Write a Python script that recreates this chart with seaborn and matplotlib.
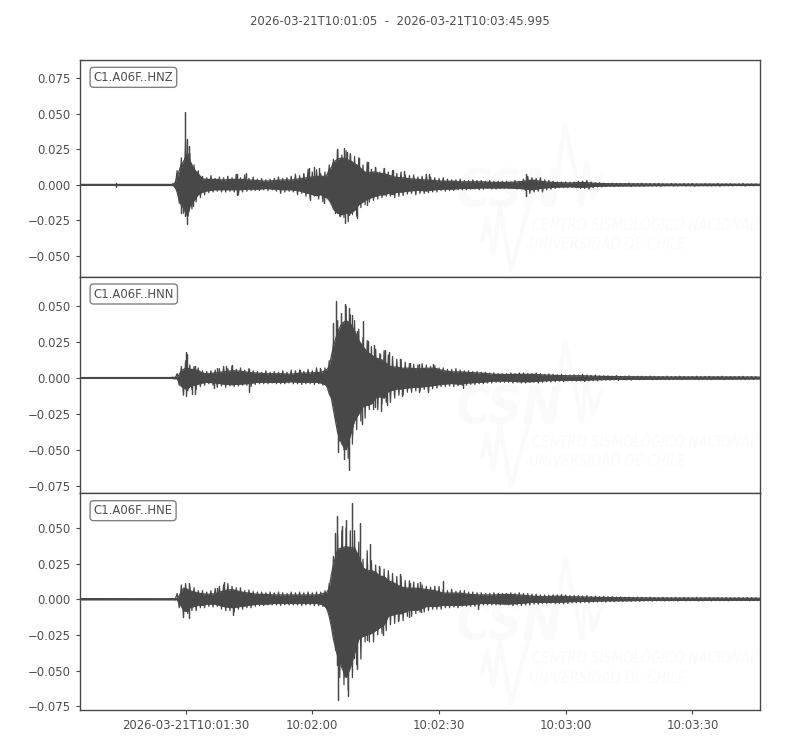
import numpy as np
import pandas as pd
import matplotlib
matplotlib.use('Agg')
import matplotlib.pyplot as plt
import seaborn as sns

# seconds after 10:01:05, amplitudes below are in units of 1e-3
env_t = [0, 21, 22, 22.5, 23, 23.5, 24, 24.5, 25, 25.5,
         26, 27, 28, 29, 30, 32, 34, 36, 38, 40,
         42, 44, 46, 48, 50, 52, 54, 56, 57, 58,
         58.5, 59, 59.5, 60, 61, 62, 63, 64, 65, 66,
         67, 68, 69, 70, 71, 72, 73, 74, 75, 76,
         78, 80, 82, 84, 86, 88, 90, 92, 95, 98,
         101, 104, 107, 110, 113, 116, 119, 122, 125, 130,
         135, 140, 145, 150, 155, 160.995]

hnz_up = [.3, .3, .3, 1.5, 6, 12, 17, 19, 23, 26,
          20, 13, 9, 5, 4.5, 4.5, 4, 4.5, 4.5, 4,
          3.5, 3, 3.5, 4, 4, 5, 6, 7, 7, 6,
          7, 11, 12, 16, 18, 19, 18, 17, 15, 13,
          10, 8, 9, 9, 8, 8, 8, 7, 6, 6,
          5, 4.5, 4, 3.5, 3, 3, 2.5, 2.5, 2.5, 2,
          2, 2.5, 4, 2.5, 1.8, 1.5, 2, 1.2, .9, .8,
          .7, .6, .6, .6, .5, .5]
hnz_lo = [-.3, -.3, -.3, -1.5, -6, -13, -17, -19, -23, -26,
          -18, -13, -8, -6, -5, -4, -4, -4, -4, -3.5,
          -3.5, -3, -3.5, -4, -4, -5, -7, -9, -8, -9,
          -8, -11, -13, -17, -20, -21, -20, -20, -18, -14,
          -12, -10, -9, -8, -7, -7, -7, -8, -6, -6,
          -5, -4.5, -5, -4, -3.5, -3.5, -3, -3, -2.5, -2.5,
          -2.5, -3, -4, -2.5, -1.8, -1.5, -2, -1.2, -.9, -.8,
          -.7, -.6, -.6, -.6, -.5, -.5]
hnz_spike_t = [8.5, 8.5, 23.9, 24.9, 24.9, 25.3, 25.4, 25.7, 26.7, 37.1, 37.1, 39.3,
               54.1, 54.5, 55.3, 56.5, 57.7, 60.4, 60.8, 61.6, 62.6, 62.8, 63.2, 63.8,
               64, 65.7, 66, 67.9, 68.1, 69.9, 71.9, 74.1, 76.6, 82.6, 105.7, 105.7]
hnz_spike_v = [1.2, -1.2, -19.5, 51.5, -22, 32, -27.6, 27, -15, 7.5, -7.5, 8,
               11.7, -10.5, 12.4, 11.7, -12.8, -20, 25, -22, 25.7, -27, 23.4, -21,
               22, -23.5, 19, -14, 16.4, 12.4, 11.7, 10.5, 9.4, 7.7, 7.5, -8]
# jagged edge of the trace, one value per second from t=22 to t=100
hnz_fine_up = [1, 10, 19, 30, 22,
               14, 10, 6, 5, 6.5, 4.5, 5.5, 5, 6, 5,
               7.5, 5, 7, 4.5, 5.5, 4, 4.5, 3.5, 4, 4.5,
               5.5, 4.5, 5, 6, 7.5, 6.5, 8, 11, 9, 10.5,
               8, 9, 14, 18, 25, 21, 24, 22, 20, 19,
               14, 16, 11, 12, 9, 11.5, 9, 10, 8, 9,
               7, 6.5, 7, 5.5, 6, 7.5, 5.5, 5, 4.5, 5,
               4, 3.5, 3.5, 4, 3, 3, 3.5, 3, 3, 2.5,
               3, 2.5, 2.5, 2.5]
hnz_fine_lo = [-2, -13, -20, -22, -17,
               -12, -9, -7, -5.5, -5, -4.5, -5, -5, -4.5, -5,
               -7, -5, -4.5, -4, -4, -4, -3.5, -4, -3.5, -4.5,
               -6, -5, -4.5, -5, -7, -6, -8, -9.5, -8, -10,
               -12, -10, -14, -19, -22, -23, -26, -21, -22, -16,
               -14, -12, -11, -10, -9, -8, -8, -9, -8, -7.5,
               -6.5, -6, -7, -6, -6, -5.5, -5, -5, -4, -4.5,
               -4, -4, -3.5, -3.5, -3.5, -3, -3, -3.5, -3, -2.5,
               -3, -3, -2.5, -2.5]
# late part of the record, size of the swing per second from t=101 to t=160
hnz_tail = [2.5, 2, 3, 2.5, 4, 6, 5, 4.5, 5, 3.5,
            3, 2.5, 2, 2, 2, 1.8, 2, 2.5, 2.5, 3,
            2, 1.5, 1.5, 1.2, 1, 1.2, 1, 1, .8, 1.2,
            .8, .9, 1.1, .7, .8, .9, 1, .7, .7, .9,
            .8, .6, .8, .7, 1, .7, .6, .8, .7, .6,
            .9, .6, .7, .8, .6, .7, .9, .6, .7, .6]

hnn_up = [.3, .3, .4, .5, .6, 3, 6, 7, 8, 8,
          7, 7, 6, 4, 3.5, 4, 5, 6, 5.5, 4.5,
          4, 3.5, 3.5, 3.5, 3, 4, 4, 4.5, 4.5, 5,
          6, 8, 15, 22, 32, 38, 40, 38, 33, 26,
          22, 18, 16, 14, 13, 12, 10, 9, 9, 8,
          8, 7.5, 8, 8, 6, 5, 5, 4.5, 4, 3,
          2.8, 3, 3, 2.5, 2, 1.8, 1.8, 1.4, 1.2, 1,
          .9, .8, .8, .8, .8, .7]
hnn_lo = [-.3, -.3, -.4, -.5, -.6, -4, -7, -8, -9, -9,
          -7, -6, -5, -4, -3.5, -4, -5, -5.5, -5, -4.5,
          -3.5, -3.5, -3.5, -3.5, -3, -3.5, -3.5, -3.5, -4, -4.5,
          -6, -11, -14, -22, -38, -46, -50, -40, -30, -25,
          -20, -19, -18, -14, -13, -14, -11, -10, -9, -9,
          -8, -7.5, -7, -6, -5, -4.5, -5, -4, -3.5, -2.5,
          -2.5, -3, -3, -2.2, -2, -1.8, -1.8, -1.4, -1.2, -1,
          -.9, -.8, -.8, -.8, -.8, -.7]
hnn_spike_t = [25, 25, 25.4, 26.5, 27.3, 27.3, 31.8, 32.4, 34.5, 36, 40, 40.1, 52.1, 56.9,
               60, 60.7, 61.2, 61.8, 62.6, 62.8, 63.6, 63.6, 64.4, 64.4, 65.6, 66.7, 67.1,
               68.2, 68.3, 69.5, 69.9, 71.1, 71.3, 72.3, 72.7, 73.1, 75.8, 76.2, 78.2,
               80.2, 80.2, 82.4, 83.6, 90.7]
hnn_spike_v = [18.2, -12.8, 17, -11, 8.2, -11, -6.8, 7.2, 8, 8.9, -9.8, 6.5, 5.8, 7,
               38, 53.8, -51.7, 45.4, -56.4, 51.5, 49, -63.8, 43.8, -39, 33, -32, 39.8,
               26, -19, 22.8, -20, 17, -23, 19.3, -19, 18, 13.5, -12.8, 10.5,
               9.5, -9.8, -10, 10, -7.2]
hnn_fine_up = [.5, 3, 8, 12, 9,
               8, 7, 5, 4.5, 5, 5.5, 6.5, 8, 6.5, 8.5,
               6, 7, 5.5, 6.5, 5, 4.5, 4, 5, 4, 4.5,
               4, 5, 4, 5.5, 5, 5.5, 4.5, 6, 5, 7,
               6, 7, 12, 24, 40, 36, 50, 44, 40, 34,
               28, 26, 22, 20, 17, 19, 16, 15, 13, 13,
               11, 10, 9.5, 9, 10, 9, 8, 8.5, 7, 7,
               6, 6, 6.5, 5.5, 5, 5, 4.5, 4.5, 4, 4,
               3.5, 3.5, 3, 3]
hnn_fine_lo = [-.5, -5, -12, -9, -8,
               -8, -6, -5, -4, -5, -6.5, -5.5, -6.5, -5.5, -6,
               -5.5, -5, -5, -6, -4.5, -4, -4, -4, -3.5, -4,
               -4, -4, -3.5, -4, -4, -4.5, -4, -4, -4.5, -4,
               -5, -6, -13, -28, -44, -50, -56, -46, -36, -30,
               -28, -22, -22, -22, -18, -17, -17, -14, -12, -12,
               -10, -10, -9, -9, -8, -9, -7.5, -7, -6, -6,
               -5.5, -6, -5.5, -5, -5, -4.5, -4.5, -4, -4, -3.5,
               -3.5, -3, -3, -3]
hnn_tail = [3, 3.5, 3, 3.5, 3.5, 3, 3, 3.5, 3, 2.5,
            2.8, 2.5, 2.2, 2.5, 2, 2, 2.2, 2, 2.5, 2,
            1.8, 2, 1.5, 1.5, 1.5, 1.3, 1.8, 1.2, 1.3, 1.5,
            1.1, 1.2, 1.2, 1, 1.3, 1.1, 1, 1, 1.2, 1,
            1, 1.2, 1, .9, 1, 1.2, .9, 1, 1.1, .9,
            1, 1.2, .9, 1, .9, 1, 1.1, .9, 1, .9]

hne_up = [.4, .4, .4, .4, .4, 3, 6, 9, 9, 8,
          7, 6, 5, 4.5, 4, 4.5, 7, 8, 6, 5,
          4, 4, 3.5, 3.5, 3.5, 3.5, 3.5, 3.5, 4, 4.5,
          5, 8, 17, 24, 35, 36, 37, 36, 36, 30,
          22, 20, 20, 19, 16, 16, 15, 14, 12, 10,
          9, 9, 8, 7, 5, 5, 5, 4, 3.5, 3.5,
          4, 3.5, 2.5, 2, 2.5, 2, 1.8, 1.5, 1.3, 1.2,
          1, .9, .9, .9, .8, .8]
hne_lo = [-.4, -.4, -.4, -.4, -.4, -3, -6, -9, -10, -10,
          -7, -6, -5, -5, -4, -4, -6, -7, -6, -5,
          -4, -4, -3.5, -3.5, -3.5, -3.5, -3.5, -3.5, -4, -5,
          -7, -12, -19, -28, -40, -48, -55, -48, -38, -28,
          -26, -25, -24, -22, -20, -18, -14, -13, -12, -12,
          -9, -9, -6, -6, -5, -5, -5, -4.5, -3.5, -3.5,
          -4, -3.5, -2.5, -2.5, -2.5, -2, -1.8, -1.5, -1.3, -1.2,
          -1, -.9, -.9, -.9, -.8, -.8]
hne_spike_t = [24.6, 25.7, 25.7, 32.5, 34.2, 36.3, 60.4, 60.8, 60.9, 61.2, 62, 62.4, 63,
               63.4, 64.4, 64.8, 65.6, 66.3, 67.9, 68.7, 69.7, 70.9, 71.7, 73, 75.4,
               75.7, 77.8, 78.2, 80.4, 80.8, 86, 94.2]
hne_spike_v = [7.7, 11.6, -13.3, 7.7, 12.3, -11, 46.6, -46, 58.3, -70.8, 51.5, -54, 55.5,
               -68, 67.6, -41, -48.7, 53.6, -28.4, 38.7, -22.6, 23.3, -25, 17, -15,
               17.5, -12.8, 11.6, 12.4, -9.3, 12.6, -7]
hne_fine_up = [.5, 4, 10, 11, 9,
               8, 6, 6, 5, 6, 7.5, 9, 10, 11, 9,
               8, 8, 6, 6.5, 5.5, 5, 5, 4.5, 5, 4.5,
               5, 4.5, 4, 5, 4.5, 5, 4.5, 5, 4.5, 5,
               5, 6, 11, 30, 45, 48, 50, 48, 48, 40,
               28, 34, 27, 24, 22, 21, 20, 18, 16, 16,
               13, 13, 12, 11, 10, 9, 8.5, 9, 9, 7,
               6, 7, 5.5, 6, 6, 5, 5, 4.5, 4.5, 4,
               4, 4.5, 4, 4]
hne_fine_lo = [-.5, -6, -13, -10, -8,
               -8, -6, -6, -5, -5.5, -5, -7, -8, -8, -9,
               -7, -7, -6, -6, -5, -4.5, -4.5, -4, -4, -4,
               -4.5, -4, -4, -4, -4, -4.5, -4, -4, -4.5, -4.5,
               -5, -7, -14, -36, -55, -60, -64, -55, -46, -42,
               -30, -30, -30, -25, -24, -22, -18, -17, -15, -15,
               -12, -12, -10, -9, -9, -8, -7, -7, -7, -6,
               -6, -5.5, -6, -5, -5, -5, -5, -4.5, -4, -4,
               -4, -4, -4, -3.5]
hne_tail = [4, 4.5, 4, 4.5, 4, 4, 3.5, 3.5, 3, 3,
            2.8, 3, 3, 3.2, 3, 2.5, 2.5, 2.5, 2.2, 2.5,
            2, 2, 1.8, 2, 1.7, 1.8, 1.5, 1.6, 1.4, 1.5,
            1.3, 1.5, 1.3, 1.2, 1.4, 1.2, 1.1, 1.3, 1.2, 1.1,
            1.3, 1, 1.2, 1.1, 1, 1.3, 1.1, 1, 1.2, 1,
            1.1, 1, 1.2, 1, 1, 1.1, 1, 1.2, 1, 1]

channels = ['C1.A06F..HNZ', 'C1.A06F..HNN', 'C1.A06F..HNE']
y_limits = [(-0.0646, 0.0878), (-0.0803, 0.0705), (-0.0777, 0.0742)]
y_ticks = [[-0.05, -0.025, 0, 0.025, 0.05, 0.075],
           [-0.075, -0.05, -0.025, 0, 0.025, 0.05],
           [-0.075, -0.05, -0.025, 0, 0.025, 0.05]]
x_ticks = [25, 55, 85, 115, 145]
x_labels = ['2026-03-21T10:01:30', '10:02:00', '10:02:30', '10:03:00', '10:03:30']
title = '2026-03-21T10:01:05  -  2026-03-21T10:03:45.995'

trace_color = '#484848'
text_color = '#4d4d4d'
mark_color = '#fafafa'
core_share = 0.85  # solid part of the trace, the tips come from the fine lists


def draw_trace(ax, up, lo, spike_t, spike_v, fine_up, fine_lo, tail):
    """solid core, then the jagged edge and the single peaks"""
    t = np.array(env_t)
    share = np.where((t >= 23) & ((t < 58) | (t > 72)), core_share, 1.0)
    core_up = np.array(up) * share
    core_lo = np.array(lo) * share
    ax.fill_between(t, core_up * 1e-3, core_lo * 1e-3, color=trace_color, lw=0, zorder=2)
    outline = pd.DataFrame({'t': np.r_[t, t[::-1]], 'amp': np.r_[core_up, core_lo[::-1]]})

    sec = np.arange(22, 22 + len(fine_up))
    late = np.arange(101, 101 + len(tail))
    fine = pd.DataFrame({
        't': np.r_[np.ravel(np.column_stack([sec, sec + 0.5])),
                   np.ravel(np.column_stack([late, late + 0.5]))],
        'amp': np.r_[np.ravel(np.column_stack([fine_up, fine_lo])),
                     np.ravel(np.column_stack([tail, -np.array(tail)]))],
    })

    zeros = np.zeros(len(spike_v))
    peaks = pd.DataFrame({'t': np.repeat(spike_t, 3),
                          'amp': np.ravel(np.column_stack([zeros, spike_v, zeros]))})
    for part in (outline, fine, peaks):
        sns.lineplot(x=part['t'], y=part['amp'] * 1e-3, ax=ax, sort=False, estimator=None,
                     color=trace_color, lw=0.9, zorder=3)


def add_watermark(ax):
    """faint CSN logo behind the trace, placed in axes pixels"""
    w, h = 680.0, 216.5
    to_ax = lambda xs, ys: ([x / w for x in xs], [1 - y / h for y in ys])
    xs, ys = to_ax([473, 485, 502, 506, 513, 522], [143, 65, 145, 102, 137, 113])
    ax.plot(xs, ys, color=mark_color, lw=3, transform=ax.transAxes, zorder=0)
    xs, ys = to_ax([402, 407, 413, 420, 431, 448], [180, 157, 193, 148, 210, 148])
    ax.plot(xs, ys, color=mark_color, lw=3, transform=ax.transAxes, zorder=0)
    ax.text(375 / w, 1 - 147 / h, 'CSN', transform=ax.transAxes, color=mark_color,
            fontsize=38, fontweight='bold', style='oblique', stretch='condensed',
            family='DejaVu Sans', va='baseline', zorder=0)
    ax.text(452 / w, 1 - 170 / h, 'CENTRO SISMOLÓGICO NACIONAL', transform=ax.transAxes,
            color=mark_color, fontsize=10.5, style='oblique', stretch='condensed',
            family='DejaVu Sans', va='baseline', zorder=0)
    ax.text(449 / w, 1 - 189 / h, 'UNIVERSIDAD DE CHILE', transform=ax.transAxes,
            color=mark_color, fontsize=10.5, style='oblique', stretch='condensed',
            family='DejaVu Sans', va='baseline', zorder=0)


sns.set_theme(style='ticks', rc={
    'axes.edgecolor': trace_color,
    'axes.linewidth': 1.0,
    'xtick.color': trace_color,
    'ytick.color': trace_color,
    'xtick.labelcolor': text_color,
    'ytick.labelcolor': text_color,
    'xtick.labelsize': 8.4,
    'ytick.labelsize': 8.4,
    'xtick.major.size': 3,
    'ytick.major.size': 3,
    'xtick.major.width': 0.8,
    'ytick.major.width': 0.8,
    'xtick.major.pad': 3.5,
    'ytick.major.pad': 3.5,
})
plt.rcParams['font.family'] = ['DejaVu Sans']

fig, axes = plt.subplots(3, 1, figsize=(8, 7.5), dpi=100, sharex=True)
fig.subplots_adjust(left=0.1, right=0.95, top=0.92, bottom=0.0533, hspace=0)

series = [(hnz_up, hnz_lo, hnz_spike_t, hnz_spike_v, hnz_fine_up, hnz_fine_lo, hnz_tail),
          (hnn_up, hnn_lo, hnn_spike_t, hnn_spike_v, hnn_fine_up, hnn_fine_lo, hnn_tail),
          (hne_up, hne_lo, hne_spike_t, hne_spike_v, hne_fine_up, hne_fine_lo, hne_tail)]

for i, ax in enumerate(axes):
    add_watermark(ax)
    draw_trace(ax, *series[i])
    ax.set_xlim(0, 160.995)
    ax.set_ylim(*y_limits[i])
    ax.set_yticks(y_ticks[i])
    ax.set_yticklabels([f'{v:.3f}'.replace('-', '\u2212') for v in y_ticks[i]])
    ax.set_xlabel('')
    ax.set_ylabel('')
    ax.text(0.02, 0.95, channels[i], transform=ax.transAxes, color=text_color,
            fontsize=8.4, va='top', ha='left', zorder=5,
            bbox=dict(boxstyle='round', facecolor='white', edgecolor='#808080', lw=1.0))
    if i < 2:
        ax.tick_params(axis='x', length=0, labelbottom=False)

axes[2].set_xticks(x_ticks)
axes[2].set_xticklabels(x_labels)
fig.text(0.5, 0.971, title, ha='center', va='center', fontsize=8.4, color=text_color)

fig.savefig('out.png', dpi=100)
